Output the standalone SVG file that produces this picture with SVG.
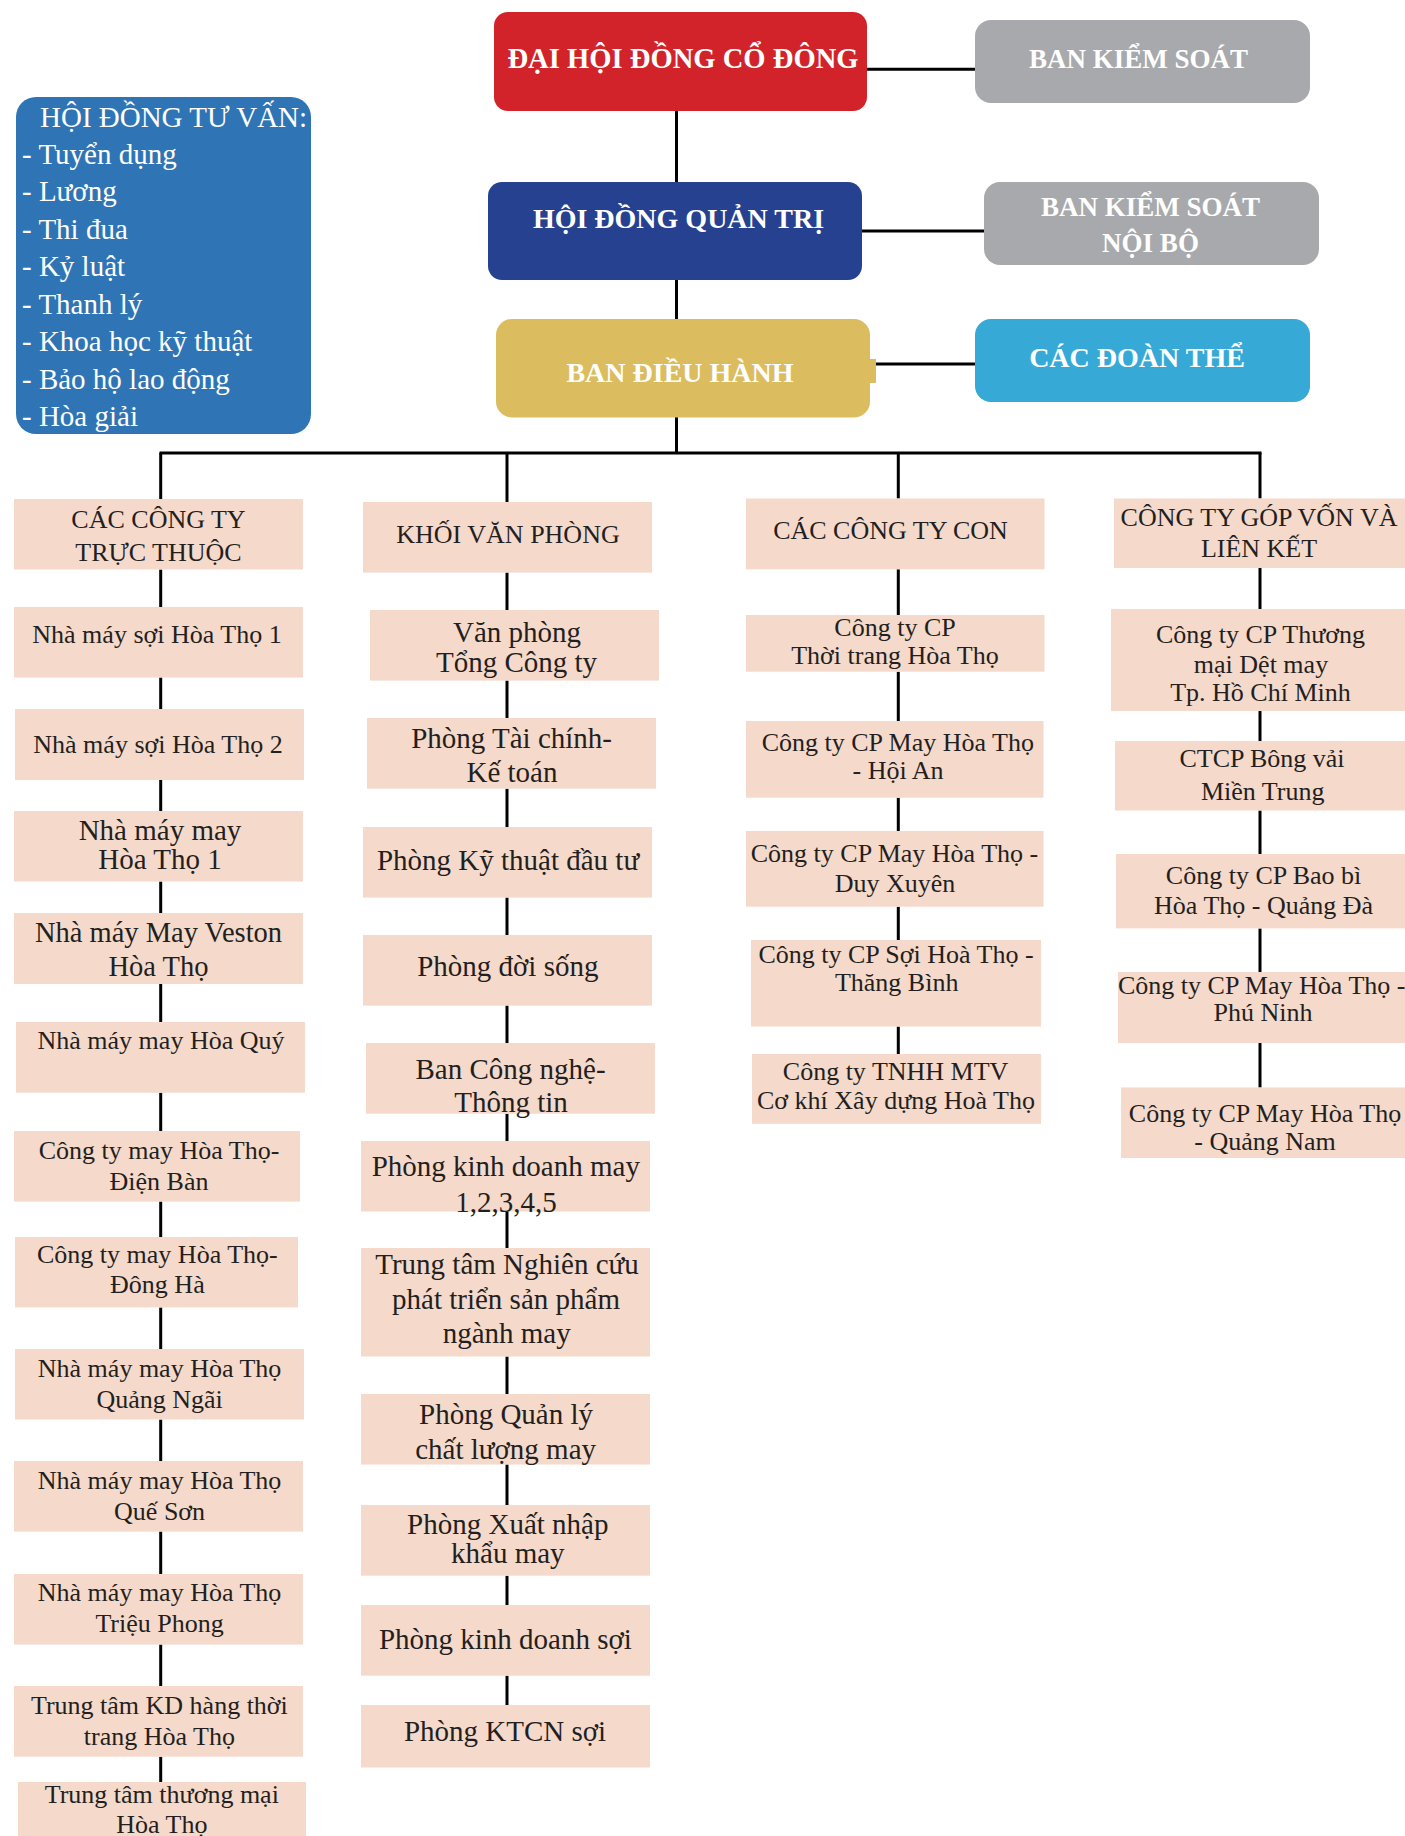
<svg xmlns="http://www.w3.org/2000/svg" width="1405" height="1836" viewBox="0 0 1405 1836">
<style>
.bg{fill:#ffffff}
.pk{fill:#F5D9CB}
.t{font-family:"Liberation Serif","Times New Roman",serif;font-size:26px;fill:#231F20;text-anchor:middle}
.tm{font-family:"Liberation Serif","Times New Roman",serif;font-size:29px;fill:#231F20;text-anchor:middle}
.tb{font-family:"Liberation Serif","Times New Roman",serif;font-size:28px;font-weight:bold;fill:#ffffff;text-anchor:middle}
.tv{font-family:"Liberation Serif","Times New Roman",serif;font-size:29px;fill:#ffffff}
.ln{stroke:#000000;stroke-width:3;fill:none}
</style>
<rect class="bg" x="0" y="0" width="1405" height="1836"/>

<g id="connectors">
<path class="ln" d="M867 69.3H975 M862 231H984 M876 364H975 M676.5 111V182 M676.5 280V319 M676.5 417V453"/>
<path class="ln" d="M159.5 453H1261.5"/>
<path class="ln" d="M160.7 453V499 M160.7 569.5V607 M160.7 677.5V709 M160.7 780V811 M160.7 881.5V913 M160.7 984V1022 M160.7 1092.7V1131 M160.7 1201.6V1237 M160.7 1307.4V1349 M160.7 1419.5V1461 M160.7 1531.6V1574 M160.7 1644.6V1686 M160.7 1756.7V1782"/>
<path class="ln" d="M507 453V502 M507 572.6V610 M507 680.6V718 M507 788.7V827 M507 897.6V935 M507 1005.6V1043 M507 1113.7V1141 M507 1198V1248 M507 1356.5V1394 M507 1464.5V1505 M507 1575.7V1605 M507 1675.7V1705"/>
<path class="ln" d="M898.3 453V498.5 M898.3 569.3V615 M898.3 671.7V721 M898.3 797.7V831 M898.3 906.7V940 M898.3 1026.6V1054"/>
<path class="ln" d="M1260 453V498.5 M1260 568V609 M1260 711V741 M1260 810.5V854 M1260 928.4V972 M1260 1043V1087.5"/>
</g>

<g id="dai-hoi-dong-co-dong">
<rect x="494" y="12" width="373" height="99" rx="14" fill="#D2232A"/>
<text class="tb" x="683" y="68" style="font-size:28.6px">ĐẠI HỘI ĐỒNG CỔ ĐÔNG</text>
</g>
<g id="ban-kiem-soat">
<rect x="975" y="20" width="335" height="83" rx="16" fill="#A7A9AC"/>
<text class="tb" x="1138.5" y="68" style="font-size:27px">BAN KIỂM SOÁT</text>
</g>
<g id="hoi-dong-quan-tri">
<rect x="488" y="182" width="374" height="98" rx="14" fill="#26418F"/>
<text class="tb" x="678.5" y="228">HỘI ĐỒNG QUẢN TRỊ</text>
</g>
<g id="ban-kiem-soat-noi-bo">
<rect x="984" y="182" width="335" height="83" rx="16" fill="#A7A9AC"/>
<text class="tb" x="1150.5" y="216" style="font-size:27px">BAN KIỂM SOÁT</text>
<text class="tb" x="1150.5" y="252" style="font-size:27px">NỘI BỘ</text>
</g>
<g id="ban-dieu-hanh">
<rect x="496" y="319" width="374" height="98.5" rx="16" fill="#DBBC5E"/>
<rect x="866" y="359" width="10" height="24" fill="#DBBC5E"/>
<text class="tb" x="680" y="382">BAN ĐIỀU HÀNH</text>
</g>
<g id="cac-doan-the">
<rect x="975" y="319" width="335" height="83" rx="16" fill="#36A9D6"/>
<text class="tb" x="1137" y="367">CÁC ĐOÀN THỂ</text>
</g>
<g id="hoi-dong-tu-van">
<rect x="16" y="97" width="295" height="337" rx="20" fill="#2F75B5"/>
<text class="tv" x="40" y="127">HỘI ĐỒNG TƯ VẤN:</text>
<text class="tv" x="22" y="163.5">- Tuyển dụng</text>
<text class="tv" x="22" y="201">- Lương</text>
<text class="tv" x="22" y="238.5">- Thi đua</text>
<text class="tv" x="22" y="276">- Kỷ luật</text>
<text class="tv" x="22" y="313.5">- Thanh lý</text>
<text class="tv" x="22" y="351">- Khoa học kỹ thuật</text>
<text class="tv" x="22" y="388.5">- Bảo hộ lao động</text>
<text class="tv" x="22" y="426">- Hòa giải</text>
</g>

<g id="cac-cong-ty-truc-thuoc">
<rect class="pk" x="14" y="499" width="289" height="70.5"/>
<text class="t" x="158.5" y="528.4">CÁC CÔNG TY</text>
<text class="t" x="158.5" y="560.5">TRỰC THUỘC</text>
</g>
<g id="nm-soi-1">
<rect class="pk" x="14" y="607" width="289" height="70.5"/>
<text class="t" x="157" y="643">Nhà máy sợi Hòa Thọ 1</text>
</g>
<g id="nm-soi-2">
<rect class="pk" x="15" y="709" width="289" height="71"/>
<text class="t" x="158" y="752.5">Nhà máy sợi Hòa Thọ 2</text>
</g>
<g id="nm-may-1">
<rect class="pk" x="14" y="811" width="289" height="70.5"/>
<text class="tm" x="160" y="839.5">Nhà máy may</text>
<text class="tm" x="160" y="868.6">Hòa Thọ 1</text>
</g>
<g id="nm-veston">
<rect class="pk" x="14" y="913" width="289" height="71"/>
<text class="tm" x="158.5" y="942" style="font-size:28.5px">Nhà máy May Veston</text>
<text class="tm" x="158.5" y="975.7" style="font-size:28.5px">Hòa Thọ</text>
</g>
<g id="nm-hoa-quy">
<rect class="pk" x="16" y="1022" width="289" height="70.7"/>
<text class="t" x="161" y="1049">Nhà máy may Hòa Quý</text>
</g>
<g id="ct-dien-ban">
<rect class="pk" x="14" y="1131" width="286" height="70.6"/>
<text class="t" x="159" y="1159">Công ty may Hòa Thọ-</text>
<text class="t" x="159" y="1190">Điện Bàn</text>
</g>
<g id="ct-dong-ha">
<rect class="pk" x="15" y="1237" width="283" height="70.4"/>
<text class="t" x="157.4" y="1263">Công ty may Hòa Thọ-</text>
<text class="t" x="157.4" y="1293">Đông Hà</text>
</g>
<g id="nm-quang-ngai">
<rect class="pk" x="15" y="1349" width="289" height="70.5"/>
<text class="t" x="159.6" y="1376.7">Nhà máy may Hòa Thọ</text>
<text class="t" x="159.6" y="1408">Quảng Ngãi</text>
</g>
<g id="nm-que-son">
<rect class="pk" x="14" y="1461" width="289" height="70.6"/>
<text class="t" x="159.6" y="1489">Nhà máy may Hòa Thọ</text>
<text class="t" x="159.6" y="1519.5">Quế Sơn</text>
</g>
<g id="nm-trieu-phong">
<rect class="pk" x="14" y="1574" width="289" height="70.6"/>
<text class="t" x="159.6" y="1601">Nhà máy may Hòa Thọ</text>
<text class="t" x="159.6" y="1632">Triệu Phong</text>
</g>
<g id="tt-kd-thoi-trang">
<rect class="pk" x="14" y="1686" width="289" height="70.7"/>
<text class="t" x="159.4" y="1714.4">Trung tâm KD hàng thời</text>
<text class="t" x="159.4" y="1745">trang Hòa Thọ</text>
</g>
<g id="tt-thuong-mai">
<rect class="pk" x="18" y="1782" width="288" height="60"/>
<text class="t" x="161.8" y="1803">Trung tâm thương mại</text>
<text class="t" x="161.8" y="1833">Hòa Thọ</text>
</g>

<g id="khoi-van-phong">
<rect class="pk" x="363" y="502" width="289" height="70.6"/>
<text class="t" x="508" y="542.7">KHỐI VĂN PHÒNG</text>
</g>
<g id="van-phong-tct">
<rect class="pk" x="370" y="610" width="289" height="70.6"/>
<text class="tm" x="517" y="641.8">Văn phòng</text>
<text class="tm" x="516.5" y="672">Tổng Công ty</text>
</g>
<g id="phong-tckt">
<rect class="pk" x="367" y="718" width="289" height="70.7"/>
<text class="tm" x="511.6" y="748">Phòng Tài chính-</text>
<text class="tm" x="512" y="781.5">Kế toán</text>
</g>
<g id="phong-ktdt">
<rect class="pk" x="363" y="827" width="289" height="70.6"/>
<text class="tm" x="508" y="869.5">Phòng Kỹ thuật đầu tư</text>
</g>
<g id="phong-doi-song">
<rect class="pk" x="363" y="935" width="289" height="70.6"/>
<text class="tm" x="507.8" y="975.7">Phòng đời sống</text>
</g>
<g id="ban-cntt">
<rect class="pk" x="366" y="1043" width="289" height="70.7"/>
<text class="tm" x="510.5" y="1079">Ban Công nghệ-</text>
<text class="tm" x="511" y="1112">Thông tin</text>
</g>
<g id="phong-kd-may">
<rect class="pk" x="361" y="1141" width="289" height="70.5"/>
<text class="tm" x="505.8" y="1176.4">Phòng kinh doanh may</text>
<text class="tm" x="506" y="1212">1,2,3,4,5</text>
</g>
<g id="tt-nghien-cuu">
<rect class="pk" x="361" y="1248" width="289" height="108.5"/>
<text class="tm" x="507" y="1274">Trung tâm Nghiên cứu</text>
<text class="tm" x="506" y="1309">phát triển sản phẩm</text>
<text class="tm" x="506.7" y="1343">ngành may</text>
</g>
<g id="phong-qlcl">
<rect class="pk" x="361" y="1394" width="289" height="70.5"/>
<text class="tm" x="506" y="1423.6">Phòng Quản lý</text>
<text class="tm" x="505.6" y="1458.7">chất lượng may</text>
</g>
<g id="phong-xnk">
<rect class="pk" x="361" y="1505" width="289" height="70.7"/>
<text class="tm" x="507.8" y="1534">Phòng Xuất nhập</text>
<text class="tm" x="507.8" y="1563">khẩu may</text>
</g>
<g id="phong-kd-soi">
<rect class="pk" x="361" y="1605" width="289" height="70.7"/>
<text class="tm" x="505.4" y="1648.7">Phòng kinh doanh sợi</text>
</g>
<g id="phong-ktcn-soi">
<rect class="pk" x="361" y="1705" width="289" height="62.5"/>
<text class="tm" x="505" y="1741.4">Phòng KTCN sợi</text>
</g>

<g id="cac-cong-ty-con">
<rect class="pk" x="746" y="498.5" width="298.5" height="70.8"/>
<text class="t" x="890.5" y="539">CÁC CÔNG TY CON</text>
</g>
<g id="ct-thoi-trang">
<rect class="pk" x="746" y="615" width="298.5" height="56.7"/>
<text class="t" x="895" y="636">Công ty CP</text>
<text class="t" x="895" y="664">Thời trang Hòa Thọ</text>
</g>
<g id="ct-hoi-an">
<rect class="pk" x="746" y="721" width="297.5" height="76.7"/>
<text class="t" x="897.8" y="750.5">Công ty CP May Hòa Thọ</text>
<text class="t" x="898" y="778.8">- Hội An</text>
</g>
<g id="ct-duy-xuyen">
<rect class="pk" x="746" y="831" width="297.5" height="75.7"/>
<text class="t" x="894.5" y="862.4">Công ty CP May Hòa Thọ -</text>
<text class="t" x="895" y="892">Duy Xuyên</text>
</g>
<g id="ct-thang-binh">
<rect class="pk" x="751" y="940" width="290" height="86.6"/>
<text class="t" x="896" y="963">Công ty CP Sợi Hoà Thọ -</text>
<text class="t" x="896.7" y="991">Thăng Bình</text>
</g>
<g id="ct-co-khi">
<rect class="pk" x="752" y="1054" width="289" height="69.8"/>
<text class="t" x="895.6" y="1080.4">Công ty TNHH MTV</text>
<text class="t" x="896" y="1109">Cơ khí Xây dựng Hoà Thọ</text>
</g>

<g id="cong-ty-gop-von">
<rect class="pk" x="1114" y="498.5" width="291" height="69.5"/>
<text class="t" x="1259" y="526">CÔNG TY GÓP VỐN VÀ</text>
<text class="t" x="1259" y="557">LIÊN KẾT</text>
</g>
<g id="ct-det-may-hcm">
<rect class="pk" x="1111" y="609" width="294" height="102"/>
<text class="t" x="1260.5" y="643">Công ty CP Thương</text>
<text class="t" x="1261" y="672.7">mại Dệt may</text>
<text class="t" x="1260.5" y="700.5">Tp. Hồ Chí Minh</text>
</g>
<g id="ctcp-bong-vai">
<rect class="pk" x="1115" y="741" width="290" height="69.5"/>
<text class="t" x="1262" y="766.6">CTCP Bông vải</text>
<text class="t" x="1262.7" y="799.6">Miền Trung</text>
</g>
<g id="ct-bao-bi">
<rect class="pk" x="1116" y="854" width="289" height="74.4"/>
<text class="t" x="1263.6" y="883.6">Công ty CP Bao bì</text>
<text class="t" x="1263.6" y="914.3">Hòa Thọ - Quảng Đà</text>
</g>
<g id="ct-phu-ninh">
<rect class="pk" x="1118" y="972" width="287" height="71"/>
<text class="t" x="1261.7" y="993.5">Công ty CP May Hòa Thọ -</text>
<text class="t" x="1263" y="1021.4">Phú Ninh</text>
</g>
<g id="ct-quang-nam">
<rect class="pk" x="1121" y="1087.5" width="284" height="70.5"/>
<text class="t" x="1265" y="1122">Công ty CP May Hòa Thọ</text>
<text class="t" x="1265" y="1150">- Quảng Nam</text>
</g>
</svg>
